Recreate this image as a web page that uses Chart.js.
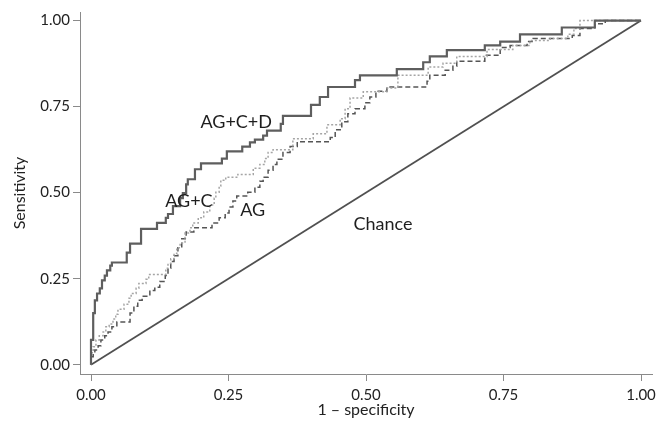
<!DOCTYPE html>
<html lang="en">
<head>
<meta charset="UTF-8">
<title>ROC curves</title>
<style>
  body { margin: 0; background: #fff; }
  .chart-box { position: relative; width: 662px; height: 430px; }
</style>
<script src="https://cdn.jsdelivr.net/npm/chart.js"></script>
</head>
<body>
<div class="chart-box"><canvas id="rocChart"></canvas></div>
<script>
// tick values shared by both axes
const axisTicks = [0, 0.25, 0.5, 0.75, 1];

// AG+C+D (solid) - step corners
const fprAGCD = [0, 0, 0.004, 0.007, 0.011, 0.016, 0.020, 0.025, 0.029, 0.035, 0.038, 0.065, 0.071, 0.091, 0.120, 0.136, 0.140, 0.149, 0.162, 0.167, 0.173, 0.176, 0.189, 0.200, 0.238, 0.247, 0.275, 0.289, 0.298, 0.313, 0.320, 0.345, 0.349, 0.400, 0.416, 0.431, 0.480, 0.489, 0.556, 0.604, 0.616, 0.647, 0.716, 0.744, 0.780, 0.856, 0.916, 1];
const tprAGCD = [0, 0.072, 0.150, 0.187, 0.207, 0.222, 0.245, 0.259, 0.274, 0.288, 0.297, 0.326, 0.352, 0.395, 0.412, 0.427, 0.438, 0.461, 0.484, 0.499, 0.524, 0.539, 0.568, 0.585, 0.599, 0.620, 0.634, 0.646, 0.654, 0.666, 0.680, 0.700, 0.723, 0.755, 0.778, 0.807, 0.827, 0.841, 0.859, 0.879, 0.896, 0.914, 0.928, 0.939, 0.960, 0.980, 1, 1];

// AG+C (dotted)
const fprAGC = [0, 0, 0.004, 0.009, 0.015, 0.022, 0.027, 0.033, 0.040, 0.045, 0.049, 0.060, 0.069, 0.073, 0.082, 0.087, 0.100, 0.105, 0.136, 0.140, 0.145, 0.151, 0.156, 0.162, 0.171, 0.180, 0.185, 0.195, 0.205, 0.216, 0.224, 0.227, 0.233, 0.236, 0.245, 0.267, 0.295, 0.307, 0.316, 0.322, 0.331, 0.367, 0.404, 0.429, 0.453, 0.462, 0.471, 0.495, 0.538, 0.558, 0.613, 0.640, 0.665, 0.720, 0.767, 0.798, 0.835, 0.867, 0.878, 0.889, 1];
const tprAGC = [0, 0.035, 0.052, 0.072, 0.084, 0.095, 0.110, 0.118, 0.133, 0.147, 0.161, 0.176, 0.193, 0.207, 0.222, 0.236, 0.248, 0.262, 0.280, 0.294, 0.308, 0.323, 0.340, 0.354, 0.383, 0.398, 0.412, 0.427, 0.444, 0.464, 0.484, 0.501, 0.519, 0.536, 0.545, 0.553, 0.571, 0.582, 0.599, 0.617, 0.625, 0.657, 0.671, 0.697, 0.715, 0.744, 0.775, 0.793, 0.804, 0.841, 0.865, 0.876, 0.896, 0.916, 0.928, 0.942, 0.948, 0.960, 0.977, 1, 1];

// AG (dashed)
const fprAG = [0, 0, 0.004, 0.007, 0.013, 0.018, 0.025, 0.031, 0.038, 0.047, 0.071, 0.078, 0.085, 0.093, 0.107, 0.116, 0.125, 0.135, 0.140, 0.145, 0.151, 0.158, 0.165, 0.173, 0.187, 0.220, 0.233, 0.244, 0.251, 0.258, 0.265, 0.285, 0.298, 0.307, 0.313, 0.322, 0.331, 0.338, 0.349, 0.362, 0.375, 0.435, 0.444, 0.456, 0.467, 0.480, 0.498, 0.507, 0.518, 0.538, 0.611, 0.616, 0.644, 0.658, 0.665, 0.716, 0.744, 0.762, 0.793, 0.804, 0.875, 0.889, 0.916, 0.935, 1];
const tprAG = [0, 0.023, 0.035, 0.043, 0.055, 0.072, 0.084, 0.095, 0.110, 0.124, 0.150, 0.170, 0.187, 0.199, 0.216, 0.225, 0.242, 0.259, 0.280, 0.300, 0.317, 0.340, 0.366, 0.386, 0.398, 0.412, 0.427, 0.441, 0.458, 0.476, 0.490, 0.501, 0.516, 0.533, 0.545, 0.565, 0.582, 0.597, 0.617, 0.634, 0.648, 0.660, 0.683, 0.706, 0.729, 0.744, 0.761, 0.778, 0.795, 0.807, 0.824, 0.841, 0.856, 0.867, 0.882, 0.899, 0.922, 0.928, 0.939, 0.948, 0.957, 0.977, 0.991, 1, 1];

// reference diagonal
const fprChance = [0, 1];
const tprChance = [0, 1];

const curveLabels = ['AG+C+D', 'AG+C', 'AG', 'Chance'];

function toPoints(xs, ys) {
    return xs.map((x, i) => ({ x: x, y: ys[i] }));
}

// writes the curve names onto the plot
const curveLabelPlugin = {
    id: 'curveLabels',
    afterDatasetsDraw(chart, args, opts) {
        const ctx = chart.ctx;
        const xs = chart.scales.x, ys = chart.scales.y;
        ctx.save();
        ctx.font = '18px Lato, "Open Sans", sans-serif';
        ctx.fillStyle = '#1e1e1e';
        ctx.textAlign = 'center';
        ctx.textBaseline = 'middle';
        opts.anchors.forEach((a, i) => {
            ctx.fillText(curveLabels[i], xs.getPixelForValue(a[0]), ys.getPixelForValue(a[1]));
        });
        ctx.restore();
    }
};

const tickFont = { family: 'Lato, "Open Sans", sans-serif', size: 15 };
const titleFont = { family: 'Lato, "Open Sans", sans-serif', size: 16 };
const axisColor = '#8a8a8a';

new Chart(document.getElementById('rocChart'), {
    type: 'scatter',
    data: {
        datasets: [
            {
                label: 'AG+C+D',
                data: toPoints(fprAGCD, tprAGCD),
                showLine: true,
                stepped: 'before',
                borderColor: '#5e5e5e',
                borderWidth: 2.2,
                pointRadius: 0
            },
            {
                label: 'AG+C',
                data: toPoints(fprAGC, tprAGC),
                showLine: true,
                stepped: 'before',
                borderColor: '#a5a5a5',
                borderWidth: 1.5,
                borderDash: [2, 2],
                pointRadius: 0
            },
            {
                label: 'AG',
                data: toPoints(fprAG, tprAG),
                showLine: true,
                stepped: 'before',
                borderColor: '#555555',
                borderWidth: 1.5,
                borderDash: [5, 3],
                pointRadius: 0
            },
            {
                label: 'Chance',
                data: toPoints(fprChance, tprChance),
                showLine: true,
                borderColor: '#505050',
                borderWidth: 1.8,
                pointRadius: 0
            }
        ]
    },
    options: {
        responsive: true,
        maintainAspectRatio: false,
        animation: false,
        layout: { padding: { top: 9, right: 10, left: 0, bottom: 0 } },
        scales: {
            x: {
                type: 'linear',
                min: -0.02,
                max: 1.02,
                afterBuildTicks: s => { s.ticks = axisTicks.map(v => ({ value: v })); },
                afterFit: s => { s.height = 56; },
                ticks: {
                    callback: v => v.toFixed(2),
                    font: tickFont,
                    color: '#222',
                    padding: 5,
                    maxRotation: 0
                },
                grid: { drawOnChartArea: false, tickLength: 7, color: axisColor },
                border: { color: axisColor },
                title: {
                    display: true,
                    text: '1 \u2013 specificity',
                    font: titleFont,
                    color: '#222',
                    padding: { top: 0, bottom: 11 }
                }
            },
            y: {
                type: 'linear',
                min: -0.027,
                max: 1.025,
                afterBuildTicks: s => { s.ticks = axisTicks.map(v => ({ value: v })); },
                afterFit: s => { s.width = 80; },
                ticks: {
                    callback: v => v.toFixed(2),
                    font: tickFont,
                    color: '#222',
                    padding: 3
                },
                grid: { drawOnChartArea: false, tickLength: 7, color: axisColor },
                border: { color: axisColor },
                title: {
                    display: true,
                    text: 'Sensitivity',
                    font: titleFont,
                    color: '#222',
                    padding: { top: 10, bottom: 0 }
                }
            }
        },
        plugins: {
            legend: { display: false },
            tooltip: { enabled: false },
            curveLabels: {
                anchors: [[0.264, 0.706], [0.178, 0.476], [0.294, 0.450], [0.531, 0.409]]
            }
        }
    },
    plugins: [curveLabelPlugin]
});
</script>
</body>
</html>
